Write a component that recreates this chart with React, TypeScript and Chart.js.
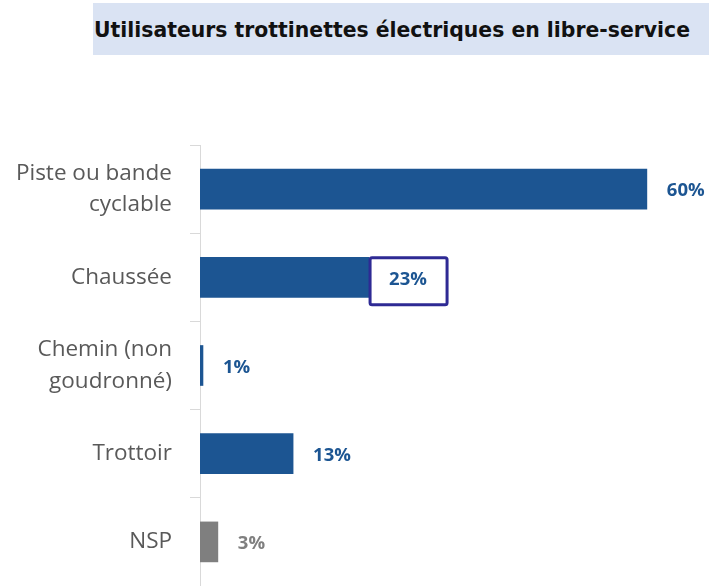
import React, { useEffect, useRef } from "react";
import { Chart, registerables } from "chart.js";

Chart.register(...registerables);

const title = "Utilisateurs trottinettes électriques en libre-service";
const categories: (string | string[])[] = [
  ["Piste ou bande", "cyclable"],
  "Chaussée",
  ["Chemin (non", "goudronné)"],
  "Trottoir",
  "NSP",
];
const values = [60, 22.7, 0.4, 12.5, 2.4];
const valueLabels = ["60%", "23%", "1%", "13%", "3%"];
const barColors = ["#1c5592", "#1c5592", "#1c5592", "#1c5592", "#7f7f7f"];
const labelColors = ["#1c5592", "#1c5592", "#1c5592", "#1c5592", "#7f7f7f"];
const boxedIndex = 1;

const labelPlugin = {
  id: "valueLabels",
  afterDatasetsDraw(chart: any) {
    const ctx = chart.ctx;
    const meta = chart.getDatasetMeta(0);
    ctx.save();
    ctx.font = "bold 18.5px 'Open Sans'";
    ctx.textBaseline = "middle";
    ctx.textAlign = "left";
    meta.data.forEach((bar: any, i: number) => {
      const x = bar.x;
      const y = bar.y;
      ctx.fillStyle = labelColors[i];
      ctx.fillText(valueLabels[i], x + 20, y + 2);
      if (i === boxedIndex) {
        const h = bar.height;
        ctx.strokeStyle = "#2e2a94";
        ctx.lineWidth = 3;
        ctx.beginPath();
        (ctx as any).roundRect(x + 1, y - h / 2 + 0.5, 77, 47, 2);
        ctx.stroke();
      }
    });
    ctx.restore();
  },
};

export default function App() {
  const ref = useRef<HTMLCanvasElement>(null);
  useEffect(() => {
    if (!ref.current) return;
    const chart = new Chart(ref.current, {
      type: "bar",
      data: {
        labels: categories,
        datasets: [
          {
            data: values,
            backgroundColor: barColors,
            barThickness: 40,
          },
        ],
      },
      options: {
        indexAxis: "y",
        animation: false,
        responsive: false,
        maintainAspectRatio: false,
        layout: { padding: { top: 145, right: 10, bottom: 0, left: 0 } },
        plugins: {
          legend: { display: false },
          tooltip: { enabled: false },
          title: { display: false },
        },
        scales: {
          x: {
            display: false,
            min: 0,
            max: 67,
          },
          y: {
            afterFit: (scale: any) => {
              scale.width = 200;
              scale.paddingTop = 0;
              scale.paddingBottom = 0;
            },
            grid: {
              offset: true,
              drawOnChartArea: false,
              color: "#d9d9d9",
              tickLength: 10,
              lineWidth: 1,
            },
            border: { display: true, color: "#d9d9d9", width: 1 },
            ticks: {
              color: "#595959",
              padding: 18,
              font: { family: "'Open Sans'", size: 22.5, lineHeight: 1.42 },
            },
          },
        },
      },
      plugins: [labelPlugin],
    });
    return () => chart.destroy();
  }, []);

  return (
    <div style={{ position: "fixed", left: 0, top: 0, width: 709, height: 586, background: "#fff" }}>
      <canvas ref={ref} width={709} height={586} style={{ position: "absolute", left: 0, top: 0 }} />
      <div
        style={{
          position: "absolute",
          left: 93,
          top: 3,
          width: 616,
          height: 52,
          background: "#dae3f3",
          display: "flex",
          alignItems: "center",
          justifyContent: "center",
          paddingRight: 18,
          paddingTop: 2,
          boxSizing: "border-box",
          fontFamily: "'DejaVu Sans', sans-serif",
          fontWeight: 700,
          fontSize: 20.4,
          whiteSpace: "nowrap",
          color: "#111",
        }}
      >
        {title}
      </div>
    </div>
  );
}
